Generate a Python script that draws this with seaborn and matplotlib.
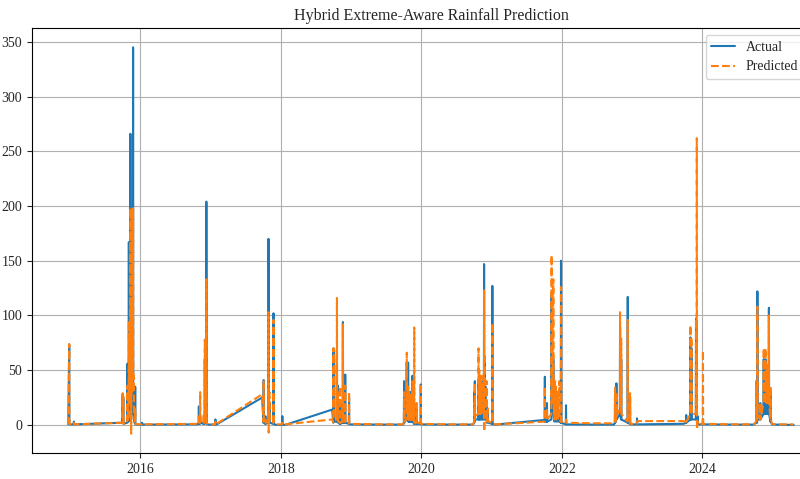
import matplotlib
matplotlib.use("Agg")
import matplotlib.pyplot as plt
import seaborn as sns
import pandas as pd

# ---- data, one block per rainy season ----
dates_14 = ["2014-12-22", "2014-12-27", "2014-12-28", "2015-01-19", "2015-01-20", "2015-01-21", "2015-09-28"]
actual_14 = [0.5, 73, 0.5, 0.5, 3, 0.5, 2]
pred_14 = [0.5, 74, 1, 0.5, 2, 0.5, 2]

dates_15 = [
    "2015-10-01", "2015-10-02", "2015-10-03", "2015-10-04", "2015-10-05", "2015-10-25", "2015-10-26",
    "2015-10-27", "2015-10-29", "2015-10-30", "2015-10-31", "2015-11-01", "2015-11-02", "2015-11-03",
    "2015-11-04", "2015-11-05", "2015-11-06", "2015-11-07", "2015-11-08", "2015-11-09", "2015-11-10",
    "2015-11-11", "2015-11-12", "2015-11-13", "2015-11-14", "2015-11-15", "2015-11-16", "2015-11-17",
    "2015-11-18", "2015-11-19", "2015-11-20", "2015-11-21", "2015-11-22", "2015-11-23", "2015-11-24",
    "2015-11-25", "2015-11-26", "2015-11-27", "2015-11-28", "2015-11-29", "2015-11-30", "2015-12-01",
    "2015-12-04", "2015-12-05", "2015-12-06", "2015-12-20", "2016-01-09", "2016-01-10", "2016-01-11",
]
actual_15 = [
    28, 2, 2, 25, 1, 2, 56,
    3, 3, 20, 3, 5, 167, 10,
    10, 60, 5, 5, 8, 5, 266,
    30, 20, 139, 5, 10, 20, 10,
    70, 10, 10, 40, 10, 20, 345,
    20, 10, 15, 35, 5, 5, 2,
    2, 35, 0.5, 0.3, 0.3, 2, 0.3,
]
pred_15 = [
    29, 3, 3, 26, 1, 2, 36,
    5, 5, 12, 5, 10, 95, 20,
    20, 80, 20, 20, 40, 30, 198,
    60, 40, 108, -8, 50, 90, 40,
    198, 30, 40, 110, 50, 70, 198,
    60, 30, 45, 25, 10, 10, 5,
    3, 15, 1, 0.5, 0.5, 1, 0.5,
]

dates_16 = [
    "2016-10-20", "2016-10-30", "2016-10-31", "2016-11-01", "2016-11-06", "2016-11-07", "2016-11-08",
    "2016-11-24", "2016-11-25", "2016-11-26", "2016-11-30", "2016-12-01", "2016-12-02", "2016-12-08",
    "2016-12-09", "2016-12-10", "2016-12-20", "2017-01-24", "2017-01-25", "2017-01-27", "2017-09-25",
]
actual_16 = [0.5, 1, 17, 1, 1, 8, 2, 1, 3, 1, 1, 60, 2, 2, 204, 1, 0.3, 0.3, 5, 0, 25]
pred_16 = [1, 1, 8, 2, 2, 30, 3, 2, 10, 2, 2, 78, 5, 3, 133, 2, 0.5, 0.5, 3, 0.5, 28]

dates_17 = [
    "2017-10-02", "2017-10-03", "2017-10-04", "2017-10-11", "2017-10-12", "2017-10-13", "2017-10-27",
    "2017-10-28", "2017-10-29", "2017-10-30", "2017-10-31", "2017-11-01", "2017-11-02", "2017-11-03",
    "2017-11-04", "2017-11-22", "2017-11-23", "2017-11-24", "2017-12-05", "2018-01-07", "2018-01-08",
    "2018-01-09", "2018-01-23", "2018-09-24",
]
actual_17 = [2, 41, 2, 1, 8, 1, 2, 170, 142, 10, 5, 10, 20, 5, 2, 1, 102, 1, 0, 0, 8, 0, 0, 14]
pred_17 = [3, 40, 3, 2, 5, 2, 3, 103, -7, 30, 10, 28, 30, 25, 5, 2, 96, 2, 0.5, 0.5, 2, 0.5, 0.5, 5]

dates_18 = [
    "2018-09-30", "2018-10-01", "2018-10-02", "2018-10-03", "2018-10-04", "2018-10-05", "2018-10-18",
    "2018-10-19", "2018-10-20", "2018-10-23", "2018-10-24", "2018-10-25", "2018-11-04", "2018-11-05",
    "2018-11-06", "2018-11-18", "2018-11-19", "2018-11-20", "2018-11-30", "2018-12-01", "2018-12-02",
    "2018-12-20", "2018-12-21", "2018-12-22", "2019-06-01",
]
actual_18 = [2, 70, 5, 5, 68, 3, 3, 55, 3, 3, 36, 2, 1, 20, 1, 2, 94, 2, 2, 46, 2, 1, 25, 0.5, 0.3]
pred_18 = [2, 70, 10, 20, 66, 5, 5, 116, 5, 5, 30, 3, 2, 35, 2, 3, 92, 3, 3, 36, 3, 2, 30, 1, 0.5]

dates_19 = [
    "2019-09-28", "2019-10-02", "2019-10-03", "2019-10-04", "2019-10-16", "2019-10-17", "2019-10-18",
    "2019-10-23", "2019-10-24", "2019-10-25", "2019-10-27", "2019-10-28", "2019-10-30", "2019-10-31",
    "2019-11-04", "2019-11-05", "2019-11-06", "2019-11-09", "2019-11-10", "2019-11-12", "2019-11-13",
    "2019-11-15", "2019-11-16", "2019-11-17", "2019-11-24", "2019-11-25", "2019-11-26", "2019-12-07",
    "2019-12-08", "2019-12-09", "2019-12-28", "2019-12-29", "2019-12-30", "2020-06-01",
]
actual_19 = [0.3, 2, 40, 2, 5, 57, 5, 5, 57, 3, 25, 3, 20, 3, 3, 30, 3, 30, 3, 15, 3,
             3, 45, 3, 1, 20, 1, 1, 15, 1, 1, 37, 0.5, 0.3]
pred_19 = [0.5, 3, 30, 3, 5, 66, 10, 10, 35, 5, 30, 5, 28, 5, 5, 25, 5, 28, 5, 25, 5,
           5, 40, 5, 2, 89, 2, 2, 20, 2, 2, 38, 1, 0.5]

dates_20 = [
    "2020-09-25", "2020-10-02", "2020-10-03", "2020-10-04", "2020-10-05", "2020-10-06", "2020-10-23",
    "2020-10-24", "2020-10-25", "2020-10-27", "2020-10-28", "2020-10-29", "2020-11-01", "2020-11-02",
    "2020-11-05", "2020-11-06", "2020-11-09", "2020-11-10", "2020-11-13", "2020-11-14", "2020-11-17",
    "2020-11-18", "2020-11-21", "2020-11-22", "2020-11-23", "2020-11-24", "2020-11-25", "2020-11-26",
    "2020-11-29", "2020-11-30", "2020-12-04", "2020-12-05", "2020-12-06", "2020-12-12", "2020-12-13",
    "2021-01-03", "2021-01-04", "2021-01-05", "2021-01-20", "2021-09-28",
]
actual_20 = [0.3, 2, 30, 3, 40, 5, 5, 40, 5, 5, 45, 5, 35, 5, 20, 5, 40, 5, 25, 5,
             30, 5, 10, 147, 5, 10, 60, 10, 35, 5, 5, 20, 2, 10, 2, 1, 127, 0.5, 0.3, 4.5]
pred_20 = [0.5, 3, 20, 5, 38, 8, 10, 70, 10, 10, 50, 10, 45, 10, 40, 10, 35, 10, 45, 10,
           40, 10, 20, 123, -6, 20, 65, 20, 40, 10, 10, 40, 3, 15, 3, 2, 93, 1, 0.5, 3]

dates_21 = [
    "2021-10-03", "2021-10-04", "2021-10-05", "2021-10-14", "2021-10-15", "2021-10-16", "2021-11-07",
    "2021-11-08", "2021-11-09", "2021-11-11", "2021-11-12", "2021-11-13", "2021-11-14", "2021-11-16",
    "2021-11-17", "2021-11-18", "2021-11-21", "2021-11-22", "2021-11-23", "2021-11-26", "2021-11-27",
    "2021-12-01", "2021-12-02", "2021-12-10", "2021-12-11", "2021-12-18", "2021-12-19", "2021-12-26",
    "2021-12-27", "2021-12-28", "2022-01-21", "2022-01-22", "2022-01-23", "2022-06-01",
]
actual_21 = [3, 44, 3, 3, 20, 3, 5, 120, 10, 30, 10, 25, 10, 10, 60, 10, 5, 40, 3, 30,
             5, 20, 3, 15, 3, 10, 3, 2, 150, 2, 0.5, 18, 0.5, 0.3]
pred_21 = [3, 35, 5, 5, 15, 5, 10, 155, 20, 45, 20, 40, 20, 20, 133, 40, 10, 20, 5, 40,
           10, 35, 5, 30, 5, 40, 5, 3, 126, 3, 2, 5, 2, 1.5]

dates_22 = [
    "2022-09-28", "2022-10-03", "2022-10-04", "2022-10-05", "2022-10-10", "2022-10-11", "2022-10-12",
    "2022-10-29", "2022-10-30", "2022-10-31", "2022-11-04", "2022-11-05", "2022-11-06", "2022-12-08",
    "2022-12-09", "2022-12-10", "2022-12-20", "2022-12-21", "2022-12-22", "2023-01-25", "2023-01-26",
    "2023-01-28", "2023-09-25",
]
actual_22 = [0.3, 2, 30, 2, 5, 38, 5, 10, 90, 10, 5, 60, 5, 2, 117, 2, 1, 25, 0.5, 0.5, 6, 0.5, 1]
pred_22 = [1.5, 3, 34, 3, 5, 30, 8, 15, 103, 20, 10, 79, 10, 3, 96, 3, 2, 29, 1, 1, 2, 3.5, 3.5]

dates_23 = [
    "2023-10-08", "2023-10-09", "2023-10-10", "2023-10-30", "2023-10-31", "2023-11-01", "2023-11-04",
    "2023-11-05", "2023-11-06", "2023-11-28", "2023-11-29", "2023-11-30", "2023-12-02", "2023-12-03",
    "2023-12-04", "2023-12-07", "2023-12-08", "2023-12-09", "2024-01-03", "2024-01-04", "2024-01-05",
    "2024-06-01",
]
actual_23 = [2, 9, 2, 5, 80, 5, 5, 70, 5, 5, 97, 5, 5, 95, 2, 1, 8, 0.5, 0.5, 5, 0.5, 0.3]
pred_23 = [3, 5, 3, 10, 91, 10, 10, 80, 10, 10, 97, 10, 10, 262, -4, 2, 3, 1, 1, 68, 1, 0.5]

dates_24 = [
    "2024-09-25", "2024-10-06", "2024-10-07", "2024-10-08", "2024-10-12", "2024-10-13", "2024-10-14",
    "2024-10-27", "2024-10-28", "2024-10-29", "2024-11-14", "2024-11-15", "2024-11-16", "2024-11-19",
    "2024-11-20", "2024-11-21", "2024-11-23", "2024-11-24", "2024-11-25", "2024-11-28", "2024-11-29",
    "2024-12-02", "2024-12-03", "2024-12-06", "2024-12-07", "2024-12-11", "2024-12-12", "2024-12-13",
    "2024-12-20", "2024-12-21", "2024-12-22", "2024-12-28", "2025-01-15", "2025-04-20",
]
actual_24 = [0.3, 2, 40, 2, 2, 122, 5, 5, 20, 5, 10, 60, 10, 10, 50, 10, 10, 60, 10, 40,
             10, 30, 10, 45, 10, 10, 107, 10, 3, 30, 3, 0.5, 0.3, 0]
pred_24 = [0.5, 3, 40, 3, 3, 108, 10, 5, 20, 5, 20, 70, 30, 20, 70, 20, 20, 70, 30, 50,
           20, 45, 20, 55, 20, 20, 100, 20, 5, 35, 5, 1, 0.5, 0.5]

title = "Hybrid Extreme-Aware Rainfall Prediction"
series_names = ["Actual", "Predicted"]

dates = (dates_14 + dates_15 + dates_16 + dates_17 + dates_18 + dates_19 + dates_20
         + dates_21 + dates_22 + dates_23 + dates_24)
actual = (actual_14 + actual_15 + actual_16 + actual_17 + actual_18 + actual_19 + actual_20
          + actual_21 + actual_22 + actual_23 + actual_24)
predicted = (pred_14 + pred_15 + pred_16 + pred_17 + pred_18 + pred_19 + pred_20
             + pred_21 + pred_22 + pred_23 + pred_24)

df = pd.DataFrame({
    "date": pd.to_datetime(dates),
    "Actual": actual,
    "Predicted": predicted,
})

sns.set_style("ticks")
plt.rcParams["font.family"] = ["Liberation Serif", "DejaVu Serif"]

fig = plt.figure(figsize=(8.0, 4.79), dpi=100)
ax = fig.add_axes([0.04, 0.0543, 0.9975, 0.8872])

sns.lineplot(data=df, x="date", y="Actual", ax=ax, color="#1f77b4",
             linewidth=1.5, label=series_names[0])
sns.lineplot(data=df, x="date", y="Predicted", ax=ax, color="#ff7f0e",
             linewidth=1.5, linestyle="--", label=series_names[1])

ax.set_title(title, fontsize=11.5)
ax.set_xlabel("")
ax.set_ylabel("")
ax.grid(True, color="#b0b0b0", linewidth=0.8)
ax.tick_params(labelsize=10)
for s in ax.spines.values():
    s.set_color("black")
    s.set_linewidth(0.8)
ax.legend(loc="upper right", fontsize=10, frameon=True, handlelength=1.7,
          bbox_to_anchor=(804 / 800, 1 - 35 / 479), bbox_transform=fig.transFigure,
          borderaxespad=0)

fig.savefig("out.png", dpi=100)
